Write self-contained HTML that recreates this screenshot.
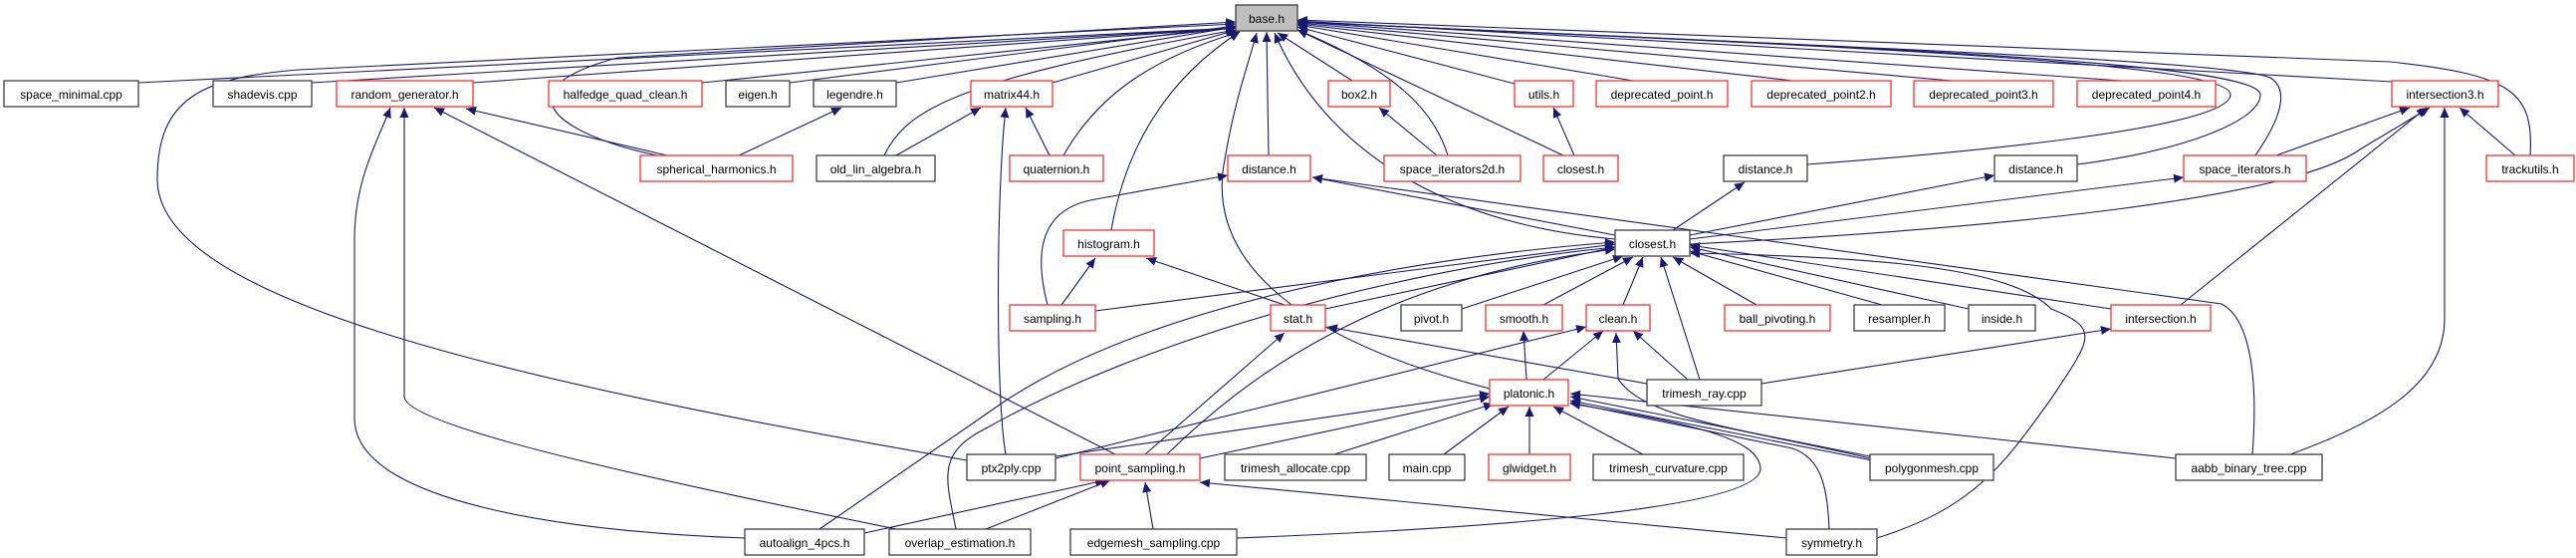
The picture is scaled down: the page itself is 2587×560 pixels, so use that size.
<!DOCTYPE html>
<html><head><meta charset="utf-8"><style>
html,body{margin:0;padding:0;background:#fff;}
svg{display:block;}
text{font-family:"Liberation Sans",Arial,sans-serif;font-size:12px;fill:#000;}
.e{fill:none;stroke:#191970;stroke-width:1.1;marker-end:url(#a);}
.b{fill:#fff;stroke:#404040;stroke-width:1.3;}
.r{fill:#fff;stroke:#ff3030;stroke-width:1.3;}
</style></head><body>
<svg width="2587" height="560" viewBox="0 0 2587 560" xmlns="http://www.w3.org/2000/svg">
<defs><marker id="a" markerUnits="userSpaceOnUse" markerWidth="11" markerHeight="9" refX="10" refY="4.5" orient="auto"><path d="M0,0 L10,4.5 L0,9 z" fill="#191970"/></marker></defs>
<g>
<path class="e" d="M139,83 L1241,28"/>
<path class="e" d="M313,83 L1241,28"/>
<path class="e" d="M475,83 L1241,28"/>
<path class="e" d="M705,83 L1241,28"/>
<path class="e" d="M793,83 L1241,26"/>
<path class="e" d="M900,83 L1241,27"/>
<path class="e" d="M1057,83 L1242,30"/>
<path class="e" d="M1358,81 L1283,33"/>
<path class="e" d="M1521,84 L1303,27"/>
<path class="e" d="M1640,81 L1303,25"/>
<path class="e" d="M1800,81 L1303,24"/>
<path class="e" d="M1960,81 L1303,23"/>
<path class="e" d="M2130,81 L1303,22"/>
<path class="e" d="M2402,82 L1303,21"/>
<path class="e" d="M2541,156 C2545,90 2520,75 2400,62 L1303,20"/>
<path class="e" d="M660,156 C560,135 500,90 620,58 L1241,22"/>
<path class="e" d="M888,156 C910,110 960,80 1241,30"/>
<path class="e" d="M1068,156 C1100,100 1150,60 1245,32"/>
<path class="e" d="M1274,156 L1272,32"/>
<path class="e" d="M1454,156 C1440,110 1400,70 1303,30"/>
<path class="e" d="M1570,156 L1303,30"/>
<path class="e" d="M1815,165 C1950,155 2240,130 2240,95 C2240,60 1800,45 1303,22"/>
<path class="e" d="M2086,165 C2200,150 2270,120 2270,95 C2270,60 1800,45 1303,22"/>
<path class="e" d="M2265,156 C2290,120 2300,90 2280,78 C2240,60 1800,45 1303,22"/>
<path class="e" d="M1116,231 C1130,150 1170,80 1245,32"/>
<path class="e" d="M1622,240 C1450,225 1330,150 1280,33"/>
<path class="e" d="M1496,390 C1300,340 1210,260 1230,160 C1240,100 1255,60 1262,33"/>
<path class="e" d="M971,462 C500,380 158,300 158,180 C158,100 200,78 300,70 L1241,24"/>
<path class="e" d="M670,156 L468,109"/>
<path class="e" d="M742,156 L845,108"/>
<path class="e" d="M900,156 L985,108"/>
<path class="e" d="M1054,156 L1030,108"/>
<path class="e" d="M1010,456 C1000,400 1000,200 1010,108"/>
<path class="e" d="M1120,456 L436,108"/>
<path class="e" d="M900,531 C700,490 406,430 406,398 L406,108"/>
<path class="e" d="M748,540 C600,535 356,510 356,420 L356,240 C356,180 380,140 392,108"/>
<path class="e" d="M1443,156 L1385,108"/>
<path class="e" d="M1581,156 L1560,108"/>
<path class="e" d="M1680,231 L1752,183"/>
<path class="e" d="M1697,236 L2003,176"/>
<path class="e" d="M1697,240 L2193,178"/>
<path class="e" d="M1697,245 C2000,230 2300,200 2370,150 L2440,108"/>
<path class="e" d="M1622,236 L1318,178"/>
<path class="e" d="M2262,456 C2268,380 2260,320 2231,305 L1318,178"/>
<path class="e" d="M1052,306 C1040,260 1040,210 1100,200 L1233,176"/>
<path class="e" d="M1066,306 L1100,259"/>
<path class="e" d="M1290,306 L1151,259"/>
<path class="e" d="M1100,312 L1622,245"/>
<path class="e" d="M1331,310 L1622,248"/>
<path class="e" d="M1468,310 L1630,257"/>
<path class="e" d="M1550,306 L1640,258"/>
<path class="e" d="M1630,306 L1650,258"/>
<path class="e" d="M1764,306 L1680,258"/>
<path class="e" d="M1890,306 L1697,252"/>
<path class="e" d="M1977,310 L1697,248"/>
<path class="e" d="M2120,310 L1697,246"/>
<path class="e" d="M1707,381 L1668,258"/>
<path class="e" d="M823,531 L1010,402 C1150,310 1400,260 1622,243"/>
<path class="e" d="M960,531 C950,480 940,455 990,430 C1150,340 1400,270 1622,248"/>
<path class="e" d="M1172,456 C1250,380 1380,280 1622,250"/>
<path class="e" d="M1885,540 C1980,510 2010,470 2060,400 C2100,340 2110,330 2060,310 C2020,270 1900,258 1697,254"/>
<path class="e" d="M2286,156 L2420,108"/>
<path class="e" d="M2190,306 L2437,108"/>
<path class="e" d="M2300,456 C2400,420 2455,380 2455,320 L2455,108"/>
<path class="e" d="M2526,156 L2470,108"/>
<path class="e" d="M1533,381 L1530,332"/>
<path class="e" d="M1550,381 L1610,332"/>
<path class="e" d="M1695,381 L1640,332"/>
<path class="e" d="M1060,460 L1593,328"/>
<path class="e" d="M1878,460 C1750,430 1650,420 1625,380 L1623,334"/>
<path class="e" d="M1654,385 L1333,328"/>
<path class="e" d="M1150,456 L1290,334"/>
<path class="e" d="M1769,385 L2120,330"/>
<path class="e" d="M1060,458 L1496,395"/>
<path class="e" d="M1205,460 L1496,398"/>
<path class="e" d="M1340,456 L1500,405"/>
<path class="e" d="M1450,456 L1515,408"/>
<path class="e" d="M1536,456 L1536,408"/>
<path class="e" d="M1650,456 L1560,408"/>
<path class="e" d="M1878,458 L1577,398"/>
<path class="e" d="M1880,462 L1577,402"/>
<path class="e" d="M2185,460 L1577,395"/>
<path class="e" d="M1837,531 C1835,490 1830,460 1800,450 L1577,404"/>
<path class="e" d="M1242,540 C1500,530 1770,510 1768,470 C1766,440 1700,425 1577,405"/>
<path class="e" d="M868,535 L1110,482"/>
<path class="e" d="M990,531 L1115,482"/>
<path class="e" d="M1158,531 L1150,484"/>
<path class="e" d="M1794,540 L1205,484"/>
</g>
<g text-anchor="middle">
<rect x="1241" y="5" width="62" height="26" fill="#bfbfbf" stroke="#404040" stroke-width="1.3"/><text x="1272" y="23">base.h</text>
<rect class="b" x="4" y="81" width="135" height="26"/><text x="71.5" y="99">space_minimal.cpp</text>
<rect class="b" x="214" y="81" width="99" height="26"/><text x="263.5" y="99">shadevis.cpp</text>
<rect class="r" x="338" y="81" width="137" height="26"/><text x="406.5" y="99">random_generator.h</text>
<rect class="r" x="551" y="81" width="154" height="26"/><text x="628" y="99">halfedge_quad_clean.h</text>
<rect class="b" x="729" y="81" width="64" height="26"/><text x="761" y="99">eigen.h</text>
<rect class="b" x="817" y="81" width="83" height="26"/><text x="858.5" y="99">legendre.h</text>
<rect class="r" x="975" y="81" width="82" height="26"/><text x="1016" y="99">matrix44.h</text>
<rect class="r" x="1334" y="81" width="62" height="26"/><text x="1365" y="99">box2.h</text>
<rect class="r" x="1521" y="81" width="59" height="26"/><text x="1550.5" y="99">utils.h</text>
<rect class="r" x="1603" y="81" width="132" height="26"/><text x="1669" y="99">deprecated_point.h</text>
<rect class="r" x="1759" y="81" width="140" height="26"/><text x="1829" y="99">deprecated_point2.h</text>
<rect class="r" x="1922" y="81" width="140" height="26"/><text x="1992" y="99">deprecated_point3.h</text>
<rect class="r" x="2086" y="81" width="139" height="26"/><text x="2155.5" y="99">deprecated_point4.h</text>
<rect class="r" x="2402" y="81" width="107" height="26"/><text x="2455.5" y="99">intersection3.h</text>
<rect class="r" x="643" y="156" width="153" height="26"/><text x="719.5" y="174">spherical_harmonics.h</text>
<rect class="b" x="820" y="156" width="119" height="26"/><text x="879.5" y="174">old_lin_algebra.h</text>
<rect class="r" x="1014" y="156" width="94" height="26"/><text x="1061" y="174">quaternion.h</text>
<rect class="r" x="1233" y="156" width="83" height="26"/><text x="1274.5" y="174">distance.h</text>
<rect class="r" x="1390" y="156" width="137" height="26"/><text x="1458.5" y="174">space_iterators2d.h</text>
<rect class="r" x="1550" y="156" width="75" height="26"/><text x="1587.5" y="174">closest.h</text>
<rect class="b" x="1731" y="156" width="84" height="26"/><text x="1773" y="174">distance.h</text>
<rect class="b" x="2003" y="156" width="83" height="26"/><text x="2044.5" y="174">distance.h</text>
<rect class="r" x="2193" y="156" width="123" height="26"/><text x="2254.5" y="174">space_iterators.h</text>
<rect class="r" x="2497" y="156" width="88" height="26"/><text x="2541" y="174">trackutils.h</text>
<rect class="r" x="1068" y="231" width="91" height="26"/><text x="1113.5" y="249">histogram.h</text>
<rect class="b" x="1622" y="231" width="75" height="26"/><text x="1659.5" y="249">closest.h</text>
<rect class="r" x="1014" y="306" width="86" height="26"/><text x="1057" y="324">sampling.h</text>
<rect class="r" x="1276" y="306" width="55" height="26"/><text x="1303.5" y="324">stat.h</text>
<rect class="b" x="1407" y="306" width="61" height="26"/><text x="1437.5" y="324">pivot.h</text>
<rect class="r" x="1492" y="306" width="77" height="26"/><text x="1530.5" y="324">smooth.h</text>
<rect class="r" x="1593" y="306" width="64" height="26"/><text x="1625" y="324">clean.h</text>
<rect class="r" x="1732" y="306" width="106" height="26"/><text x="1785" y="324">ball_pivoting.h</text>
<rect class="b" x="1862" y="306" width="91" height="26"/><text x="1907.5" y="324">resampler.h</text>
<rect class="b" x="1977" y="306" width="67" height="26"/><text x="2010.5" y="324">inside.h</text>
<rect class="r" x="2120" y="306" width="100" height="26"/><text x="2170" y="324">intersection.h</text>
<rect class="r" x="1496" y="381" width="79" height="26"/><text x="1535.5" y="399">platonic.h</text>
<rect class="b" x="1654" y="381" width="115" height="26"/><text x="1711.5" y="399">trimesh_ray.cpp</text>
<rect class="b" x="971" y="456" width="89" height="26"/><text x="1015.5" y="474">ptx2ply.cpp</text>
<rect class="r" x="1085" y="456" width="120" height="26"/><text x="1145" y="474">point_sampling.h</text>
<rect class="b" x="1230" y="456" width="142" height="26"/><text x="1301" y="474">trimesh_allocate.cpp</text>
<rect class="b" x="1395" y="456" width="76" height="26"/><text x="1433" y="474">main.cpp</text>
<rect class="r" x="1495" y="456" width="82" height="26"/><text x="1536" y="474">glwidget.h</text>
<rect class="b" x="1600" y="456" width="151" height="26"/><text x="1675.5" y="474">trimesh_curvature.cpp</text>
<rect class="b" x="1878" y="456" width="124" height="26"/><text x="1940" y="474">polygonmesh.cpp</text>
<rect class="b" x="2185" y="456" width="147" height="26"/><text x="2258.5" y="474">aabb_binary_tree.cpp</text>
<rect class="b" x="748" y="531" width="120" height="26"/><text x="808" y="549">autoalign_4pcs.h</text>
<rect class="b" x="893" y="531" width="142" height="26"/><text x="964" y="549">overlap_estimation.h</text>
<rect class="b" x="1075" y="531" width="167" height="26"/><text x="1158.5" y="549">edgemesh_sampling.cpp</text>
<rect class="b" x="1794" y="531" width="91" height="26"/><text x="1839.5" y="549">symmetry.h</text>
</g>
</svg>
</body></html>
